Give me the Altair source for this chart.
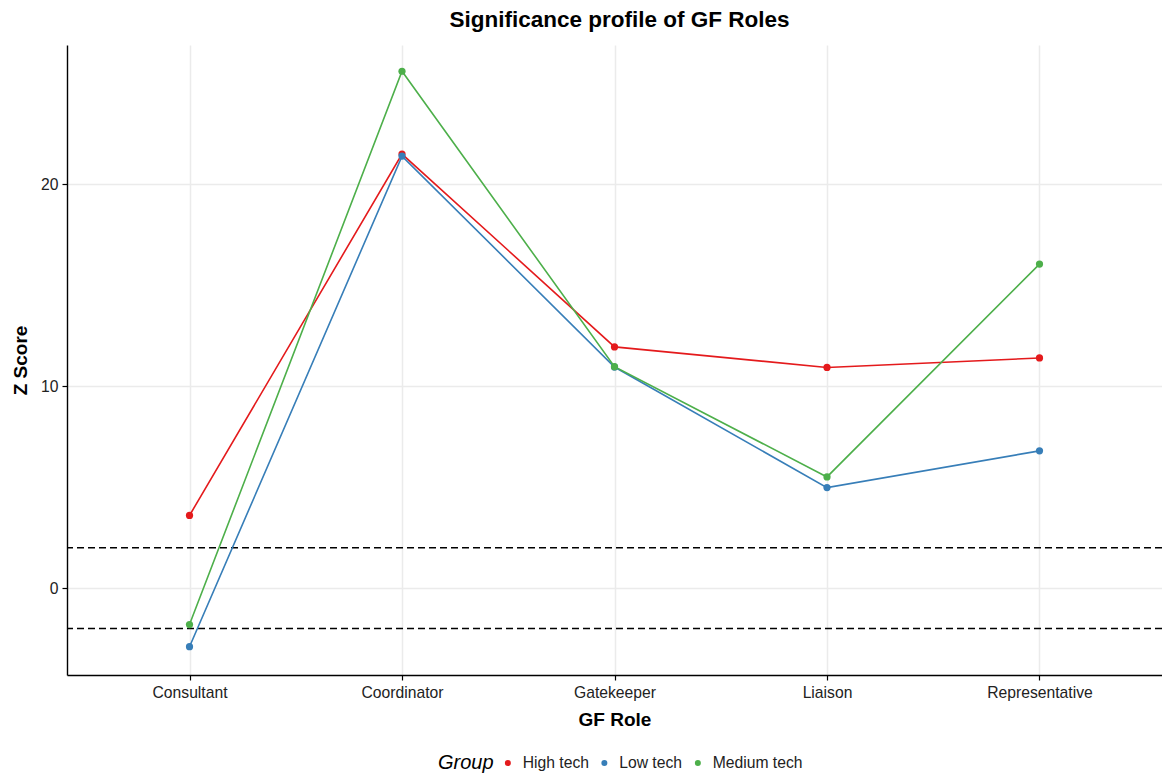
import altair as alt
import pandas as pd

roles = ["Consultant", "Coordinator", "Gatekeeper", "Liaison", "Representative"]
groups = ["High tech", "Low tech", "Medium tech"]
high_tech = [3.6, 21.5, 11.95, 10.93, 11.4]
low_tech = [-2.9, 21.4, 10.95, 4.98, 6.8]
medium_tech = [-1.8, 25.6, 10.97, 5.51, 16.05]
thresholds = [2, -2]
colors = ["#E41A1C", "#377EB8", "#4DAF4A"]

rows = []
for g, vals in zip(groups, [high_tech, low_tech, medium_tech]):
    for r, v in zip(roles, vals):
        rows.append({"role": r, "group": g, "z": v})
df = pd.DataFrame(rows)
thr = pd.DataFrame({"t": thresholds})

FONT = "Liberation Sans"

x_enc = alt.X("role:N", sort=roles, title="GF Role",
              scale=alt.Scale(type="point", padding=0.5765),
              axis=alt.Axis(labelAngle=0, grid=True, gridColor="#EBEBEB", gridWidth=1.5,
                            domainColor="black", domainWidth=1.4, tickColor="black",
                            tickSize=5, tickWidth=1.2, labelFontSize=15.7, labelColor="#222",
                            labelPadding=5.5, titleFontSize=19, titleFontWeight="bold",
                            titlePadding=10, titleColor="black", labelFont=FONT, titleFont=FONT))
y_enc = alt.Y("z:Q", title="Z Score",
              scale=alt.Scale(domain=[-4.3, 26.9], nice=False, zero=False),
              axis=alt.Axis(values=[0, 10, 20], grid=True, gridColor="#EBEBEB", gridWidth=1.5,
                            domainColor="black", domainWidth=1.4, tickColor="black",
                            tickSize=5, tickWidth=1.2, labelFontSize=15.7, labelColor="#222",
                            labelPadding=4, titleFontSize=19, titleFontWeight="bold",
                            titlePadding=10, titleColor="black", labelFont=FONT, titleFont=FONT))
color_enc = alt.Color("group:N", scale=alt.Scale(domain=groups, range=colors),
                      legend=alt.Legend(title="Group", orient="none", direction="horizontal",
                                        legendX=371, legendY=710, titleOrient="left",
                                        titleFontStyle="italic", titleFontWeight="normal",
                                        titleFontSize=20, titleFont=FONT, titleColor="black",
                                        labelFontSize=15.7, labelFont=FONT, labelColor="#222",
                                        symbolType="circle", symbolSize=36, symbolStrokeWidth=0,
                                        labelOffset=7, columnPadding=7.5, titlePadding=6,
                                        titleBaseline="middle"))

rules = alt.Chart(thr).mark_rule(color="black", strokeDash=[7, 4], strokeWidth=1.5).encode(
    y=alt.Y("t:Q"))
lines = alt.Chart(df).mark_line(strokeWidth=1.6).encode(
    x=x_enc, y=y_enc, color=color_enc, detail="group:N")
points = alt.Chart(df).mark_circle(size=52, opacity=1).encode(
    x=x_enc, y=y_enc, color=color_enc)

chart = alt.layer(rules, lines, points).properties(
    width=1095, height=630,
    title=alt.TitleParams("Significance profile of GF Roles", font=FONT, fontSize=22.5,
                          fontWeight="bold", anchor="middle", offset=14, dx=5, color="black"),
    autosize=alt.AutoSizeParams(type="none"),
    padding={"left": 59, "top": 37, "right": 0, "bottom": 100},
).configure_view(stroke=None)

chart.save("out.html", embed_options={"renderer": "svg", "actions": False})
